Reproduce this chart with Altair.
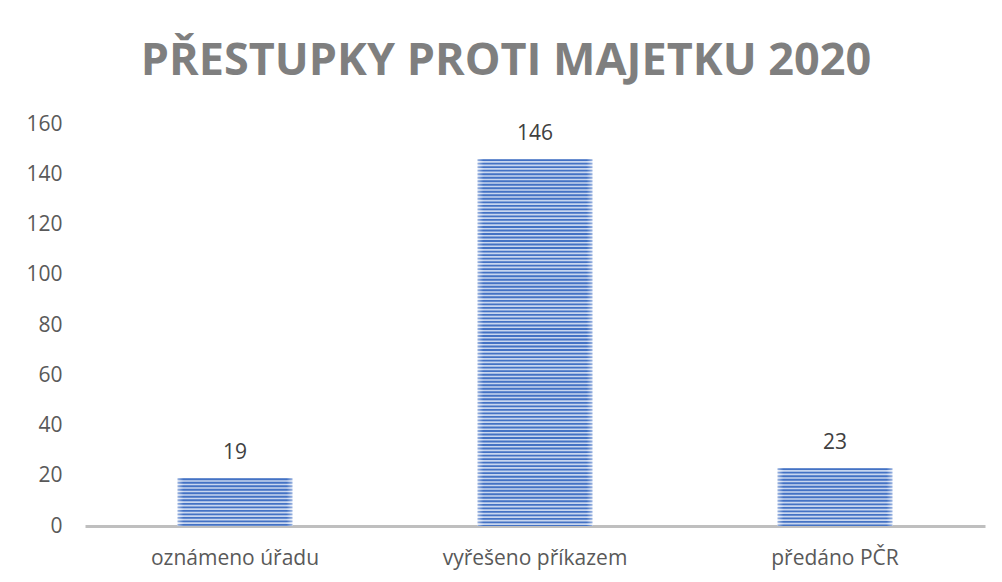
import altair as alt
import pandas as pd

categories = ["oznámeno úřadu", "vyřešeno příkazem", "předáno PČR"]
values = [19, 146, 23]
y_ticks = [0, 20, 40, 60, 80, 100, 120, 140, 160]
title_text = "PŘESTUPKY PROTI MAJETKU 2020"

df = pd.DataFrame({"kategorie": categories, "hodnota": values})

FONT = "Open Sans"

x_enc = alt.X(
    "kategorie:N",
    sort=categories,
    title=None,
    scale=alt.Scale(paddingInner=0, paddingOuter=0),
    axis=alt.Axis(
        labelAngle=0,
        ticks=False,
        domainColor="#bfbfbf",
        domainWidth=3,
        labelFont=FONT,
        labelFontSize=21,
        labelColor="#595959",
        labelPadding=21,
        labelLimit=400,
        grid=False,
    ),
)
y_scale = alt.Scale(domain=[0, 160], nice=False)
y_enc = alt.Y(
    "hodnota:Q",
    scale=y_scale,
    title=None,
    axis=alt.Axis(
        values=y_ticks,
        domain=False,
        ticks=False,
        grid=False,
        labelFont=FONT,
        labelFontSize=21,
        labelColor="#595959",
        labelPadding=23,
    ),
)

base_fill = alt.LinearGradient(
    gradient="linear",
    x1=0, x2=1, y1=0, y2=0,
    stops=[
        alt.GradientStop(color="#eef2fa", offset=0),
        alt.GradientStop(color="#c8d6ef", offset=0.06),
        alt.GradientStop(color="#c8d6ef", offset=0.94),
        alt.GradientStop(color="#eef2fa", offset=1),
    ],
)
stripe_fill = alt.LinearGradient(
    gradient="linear",
    x1=0, x2=1, y1=0, y2=0,
    stops=[
        alt.GradientStop(color="#9bb4e0", offset=0),
        alt.GradientStop(color="#4472c4", offset=0.05),
        alt.GradientStop(color="#4472c4", offset=0.95),
        alt.GradientStop(color="#9bb4e0", offset=1),
    ],
)

base = alt.Chart(df)

bars = base.mark_bar(size=115, color=base_fill).encode(x=x_enc, y=y_enc)

stripes = (
    base.transform_calculate(s="sequence(datum.hodnota, 0, -1.4)")
    .transform_flatten(["s"])
    .transform_calculate(s2="max(0, datum.s - 0.75)")
    .mark_bar(size=115, color=stripe_fill)
    .encode(
        x=alt.X("kategorie:N", sort=categories),
        y=alt.Y("s:Q", scale=y_scale),
        y2="s2:Q",
    )
)

labels = base.mark_text(
    dy=-25, baseline="middle", font=FONT, fontSize=21, color="#404040"
).encode(x=alt.X("kategorie:N", sort=categories), y=alt.Y("hodnota:Q", scale=y_scale), text="hodnota:Q")

chart = (
    alt.layer(bars, stripes, labels)
    .properties(
        width=900,
        height=402,
        title=alt.TitleParams(
            text=title_text,
            font=FONT,
            fontSize=45,
            fontWeight="bold",
            color="#7f7f7f",
            anchor="middle",
            dx=-29,
            offset=29,
        ),
        autosize=alt.AutoSizeParams(type="none"),
        padding={"left": 77, "top": 116, "right": 9, "bottom": 50},
    )
    .configure(background="white", view=alt.ViewConfig(strokeWidth=0, stroke="transparent"))
)

chart.save("out.html", embed_options={"renderer": "svg", "actions": False})
